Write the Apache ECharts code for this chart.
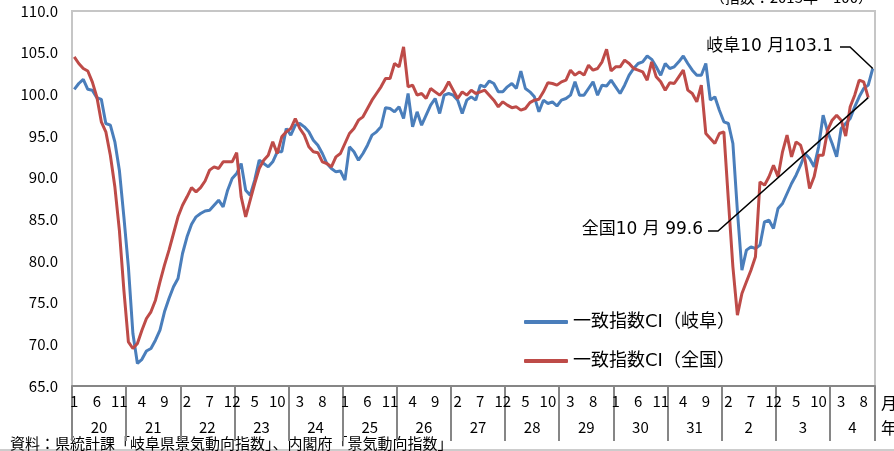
<!DOCTYPE html>
<html>
<head>
<meta charset="utf-8">
<script src="https://cdn.jsdelivr.net/npm/echarts@6/dist/echarts.min.js"></script>
<style>
  html, body { margin: 0; padding: 0; background: #fff; }
  #chart { width: 894px; height: 451px; }
</style>
</head>
<body>
<div id="chart"></div>
<script>
// 年（H20〜H31, R2〜R4）と各年の月数
const yearLabels = ['20', '21', '22', '23', '24', '25', '26', '27', '28', '29', '30', '31', '2', '3', '4'];
const yearMonths = [12, 12, 12, 12, 12, 12, 12, 12, 12, 12, 12, 12, 12, 12, 10];

// 一致指数CI（岐阜） H20.1〜R4.10
const gifu = [
  100.6, 101.3, 101.8, 100.6, 100.5, 99.6, 99.4, 96.5, 96.3, 94.3, 90.9, 85.3,
  79.3, 71.3, 67.7, 68.2, 69.2, 69.5, 70.5, 71.7, 73.9, 75.5, 76.9, 77.9,
  80.9, 82.9, 84.4, 85.3, 85.7, 86.0, 86.1, 86.7, 87.3, 86.5, 88.5, 89.9,
  90.5, 91.7, 88.5, 87.9, 89.7, 92.1, 91.7, 91.3, 91.9, 93.1, 93.1, 95.9,
  95.1, 96.3, 96.5, 96.1, 95.5, 94.5, 93.9, 92.9, 91.7, 91.1, 90.7, 90.8,
  89.7, 93.7, 93.1, 92.1, 92.9, 93.9, 95.1, 95.5, 96.1, 98.4, 98.3, 97.9,
  98.5, 97.1, 100.1, 96.1, 97.9, 96.3, 97.5, 98.7, 99.5, 97.7, 99.9, 100.1,
  99.9, 99.3, 97.7, 99.3, 99.7, 99.3, 101.1, 100.9, 101.6, 101.3, 100.3, 100.3,
  100.9, 101.3, 100.7, 102.8, 100.7, 100.3, 99.7, 97.9, 99.3, 98.9, 99.1, 98.6,
  99.3, 99.5, 99.9, 101.5, 99.9, 99.9, 100.7, 101.5, 99.9, 101.1, 101.0, 101.7,
  100.9, 100.1, 101.1, 102.3, 103.1, 103.7, 103.9, 104.6, 104.2, 103.3, 102.3, 103.7,
  103.1, 103.3, 103.9, 104.6, 103.7, 102.9, 102.3, 102.3, 103.7, 99.3, 99.7, 98.1,
  96.7, 96.5, 94.1, 86.0, 78.9, 81.3, 81.7, 81.5, 81.9, 84.7, 84.9, 83.9,
  86.3, 86.9, 88.1, 89.3, 90.3, 91.5, 92.9, 92.3, 91.3, 93.7, 97.5, 95.5,
  94.1, 92.5, 95.9, 96.5, 97.1, 98.5, 99.7, 100.7, 101.1, 103.1
];

// 一致指数CI（全国）
const zenkoku = [
  104.5, 103.7, 103.1, 102.8, 101.5, 99.7, 96.7, 95.5, 92.7, 88.9, 83.7, 76.5,
  70.3, 69.5, 70.1, 71.7, 73.1, 73.9, 75.3, 77.5, 79.5, 81.3, 83.3, 85.3,
  86.7, 87.7, 88.8, 88.3, 88.8, 89.6, 90.9, 91.3, 91.1, 91.9, 91.9, 91.9,
  93.0, 87.7, 85.3, 87.3, 89.3, 91.1, 92.1, 92.7, 94.3, 92.9, 94.9, 95.5,
  95.9, 97.1, 95.9, 95.1, 93.7, 93.1, 93.0, 91.9, 91.7, 91.3, 92.5, 92.9,
  94.1, 95.3, 95.9, 96.9, 97.3, 98.3, 99.3, 100.1, 100.9, 101.9, 101.9, 103.7,
  103.3, 105.7, 100.9, 101.1, 99.9, 100.1, 99.5, 100.7, 100.3, 99.9, 100.5, 101.5,
  100.5, 99.5, 100.3, 99.9, 100.5, 100.1, 100.3, 100.5, 99.9, 99.3, 98.5, 99.1,
  98.7, 98.4, 98.5, 98.1, 98.3, 99.0, 99.3, 99.4, 100.3, 101.4, 101.3, 101.1,
  101.5, 101.7, 102.9, 102.3, 102.7, 102.3, 103.5, 102.9, 103.1, 103.9, 105.4, 102.8,
  103.3, 103.3, 104.1, 103.7, 103.1, 102.9, 102.7, 101.7, 103.9, 102.1, 101.5, 100.5,
  101.4, 101.3, 102.1, 102.9, 100.5, 100.1, 99.1, 101.1, 95.3, 94.7, 94.1, 95.3,
  95.5, 87.3, 79.3, 73.5, 76.1, 77.5, 78.9, 80.5, 89.5, 89.1, 90.1, 91.5,
  90.1, 93.1, 95.1, 92.5, 94.3, 93.9, 92.1, 88.7, 90.1, 92.7, 92.7, 95.7,
  96.9, 97.5, 96.9, 95.0, 98.5, 99.9, 101.7, 101.5, 99.6
];

const FONT = '"Noto Sans CJK JP", "Noto Sans", sans-serif';
const WIDE = '"DejaVu Sans", "Noto Sans CJK JP", sans-serif';

// 月カテゴリと、年区切り用の境界カテゴリ
const categories = [];
const yearSlots = [];
const yearStarts = new Set();
yearLabels.forEach((y, i) => {
  yearStarts.add(categories.length);
  for (let m = 1; m <= yearMonths[i]; m++) {
    categories.push(y + '/' + m);
    yearSlots.push(m - 1 === Math.floor(yearMonths[i] / 2) ? y : '');
  }
});
yearSlots.push('');
yearStarts.add(categories.length);

const chart = echarts.init(document.getElementById('chart'));

chart.setOption({
  animation: false,
  textStyle: { fontFamily: FONT },
  grid: {
    left: 72, top: 11, width: 803, height: 375,
    containLabel: false, outerBoundsMode: 'none',
    show: true, borderColor: '#c6c6c6', borderWidth: 2
  },
  legend: {
    orient: 'vertical',
    left: 519, top: 308,
    itemWidth: 44, itemHeight: 4, itemGap: 21,
    icon: 'roundRect',
    textStyle: { fontSize: 18, color: '#000', fontFamily: WIDE },
    data: ['一致指数CI（岐阜）', '一致指数CI（全国）']
  },
  xAxis: [{
    type: 'category',
    position: 'bottom',
    data: categories,
    boundaryGap: true,
    axisLine: { lineStyle: { color: '#868686', width: 2 } },
    axisTick: { interval: 0, length: 4, lineStyle: { color: '#868686' } },
    axisLabel: {
      interval: 4, margin: 8, fontSize: 15, color: '#000', fontFamily: FONT,
      formatter: v => v.split('/')[1]
    },
    splitLine: { show: false }
  }, {
    type: 'category',
    position: 'bottom',
    offset: 0,
    data: yearSlots,
    boundaryGap: false,
    axisLine: { show: false },
    axisTick: {
      interval: idx => yearStarts.has(idx),
      length: 55,
      lineStyle: { color: '#868686', width: 2 }
    },
    axisLabel: { interval: 0, margin: 34, fontSize: 15, color: '#000', fontFamily: FONT },
    splitLine: { show: false }
  }],
  yAxis: {
    type: 'value',
    min: 65, max: 110, interval: 5,
    axisLine: { show: false },
    axisTick: { show: false },
    splitLine: { show: false },
    axisLabel: {
      margin: 14, fontSize: 15, color: '#000', fontFamily: FONT,
      formatter: v => v.toFixed(1)
    }
  },
  series: [{
    name: '一致指数CI（岐阜）',
    type: 'line',
    data: gifu,
    symbol: 'none',
    color: '#4a7ebb',
    lineStyle: { width: 3, color: '#4a7ebb' },
    z: 3
  }, {
    name: '一致指数CI（全国）',
    type: 'line',
    data: zenkoku,
    symbol: 'none',
    color: '#be4b48',
    lineStyle: { width: 3, color: '#be4b48' },
    z: 4
  }]
});

// 最新値の注記（引出線の端はデータ点から求める）
const gEnd = chart.convertToPixel({ xAxisIndex: 0, yAxisIndex: 0 }, [gifu.length - 1, gifu[gifu.length - 1]]);
const zEnd = chart.convertToPixel({ xAxisIndex: 0, yAxisIndex: 0 }, [zenkoku.length - 1, zenkoku[zenkoku.length - 1]]);

chart.setOption({
  graphic: [
    { type: 'polyline', z: 10, shape: { points: [[840, 47], [850, 47], gEnd] }, style: { stroke: '#000', lineWidth: 1.5, fill: null } },
    { type: 'text', z: 10, style: { x: 833, y: 47, text: '岐阜10 月103.1', align: 'right', verticalAlign: 'middle', fontSize: 17, fontFamily: WIDE, fill: '#000' } },
    { type: 'polyline', z: 10, shape: { points: [[708, 231], [718, 231], zEnd] }, style: { stroke: '#000', lineWidth: 1.5, fill: null } },
    { type: 'text', z: 10, style: { x: 703, y: 230, text: '全国10 月 99.6', align: 'right', verticalAlign: 'middle', fontSize: 17, fontFamily: WIDE, fill: '#000' } },
    { type: 'text', style: { x: 881, y: 403, text: '月', verticalAlign: 'middle', fontSize: 16, fontFamily: FONT, fill: '#000' } },
    { type: 'text', style: { x: 881, y: 428, text: '年', verticalAlign: 'middle', fontSize: 16, fontFamily: FONT, fill: '#000' } },
    { type: 'text', style: { x: 873, y: -3, text: '（指数：2015年＝100）', align: 'right', verticalAlign: 'middle', fontSize: 15, fontFamily: FONT, fill: '#000' } },
    { type: 'line', shape: { x1: 0, y1: 450, x2: 894, y2: 450 }, style: { stroke: '#9a9a9a', lineWidth: 1 } },
    { type: 'text', style: { x: 10, y: 443, text: '資料：県統計課「岐阜県景気動向指数」、内閣府「景気動向指数」', verticalAlign: 'middle', fontSize: 15, fontFamily: FONT, fill: '#000' } }
  ]
});
</script>
</body>
</html>
